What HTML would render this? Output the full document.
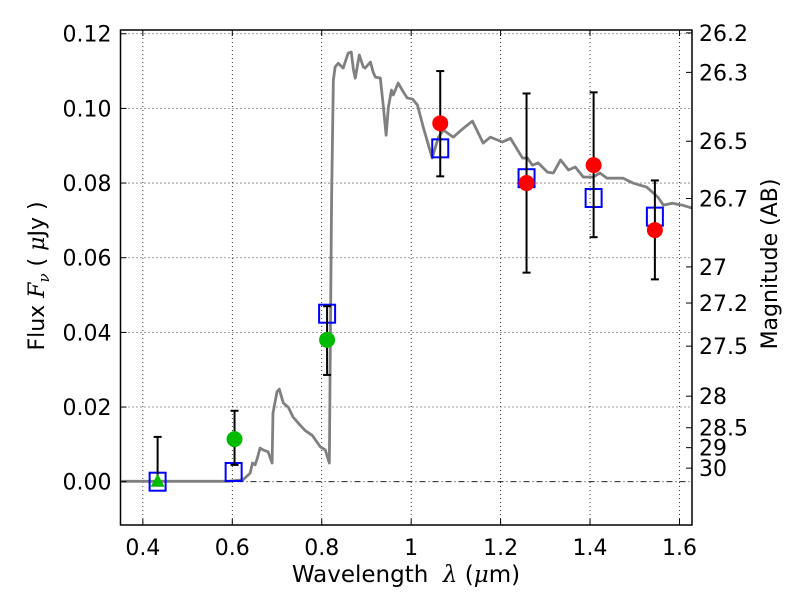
<!DOCTYPE html>
<html><head><meta charset="utf-8"><style>
body{margin:0;background:#fff}
svg{display:block;font-family:"DejaVu Sans","Liberation Sans",sans-serif}
text{white-space:pre}
</style></head><body>
<svg id="chart" width="800" height="600" viewBox="0 0 800 600"></svg>
<script>
const specLam=[0.352,0.591,0.624,0.640,0.645,0.651,0.656,0.662,0.669,0.680,0.689,0.691,0.700,0.705,0.714,0.725,0.736,0.752,0.763,0.779,0.797,0.808,0.817,0.822,0.826,0.830,0.837,0.848,0.859,0.866,0.871,0.875,0.884,0.893,0.897,0.909,0.915,0.920,0.931,0.938,0.944,0.949,0.956,0.960,0.971,0.980,0.991,1.003,1.014,1.027,1.047,1.061,1.072,1.094,1.117,1.137,1.161,1.177,1.204,1.222,1.249,1.260,1.271,1.284,1.305,1.318,1.334,1.352,1.367,1.385,1.407,1.422,1.438,1.474,1.496,1.527,1.552,1.564,1.584,1.606,1.628];
const specFlux=[0.0001,0.0001,0.0005,0.0023,0.005,0.0045,0.0063,0.009,0.0085,0.008,0.005,0.0184,0.0241,0.0248,0.0211,0.0200,0.0173,0.0151,0.0137,0.0124,0.0093,0.0085,0.005,0.0754,0.1076,0.1111,0.1121,0.1108,0.1148,0.1151,0.1103,0.1081,0.1143,0.1111,0.1108,0.1124,0.1097,0.1084,0.1081,0.1003,0.0928,0.1003,0.1049,0.1036,0.1068,0.1049,0.1028,0.1025,0.1009,0.0950,0.0867,0.0923,0.0942,0.0923,0.0947,0.0966,0.0907,0.0923,0.0910,0.0920,0.0867,0.0867,0.0848,0.0854,0.0829,0.0827,0.0862,0.0835,0.0843,0.0816,0.0816,0.0827,0.0813,0.0813,0.0800,0.0789,0.0762,0.0741,0.0746,0.0741,0.0733];
const greenLam=[0.605,0.812];
const greenFlux=[0.0114,0.038];
const greenErrHi=[0.019,0.047];
const greenErrLo=[0.0045,0.0286];
const triLam=[0.433];
const triFlux=[0.0];
const triErrHi=[0.012];
const triErrLo=[0.0];
const redLam=[1.065,1.258,1.408,1.545];
const redFlux=[0.096,0.080,0.0848,0.0674];
const redErrHi=[0.110,0.104,0.1043,0.0807];
const redErrLo=[0.0818,0.056,0.0655,0.0542];
const modelLam=[0.433,0.603,0.812,1.065,1.258,1.408,1.545];
const modelFlux=[0.0,0.0026,0.045,0.0893,0.0813,0.076,0.071];
const xTicks=[0.4,0.6,0.8,1.0,1.2,1.4,1.6];
const xTickLabels=["0.4","0.6","0.8","1","1.2","1.4","1.6"];
const yTicks=[0,0.02,0.04,0.06,0.08,0.10,0.12];
const yTickLabels=["0.00","0.02","0.04","0.06","0.08","0.10","0.12"];
const magTicks=[26.2,26.3,26.5,26.7,27,27.2,27.5,28,28.5,29,30];
const magLabels=["26.2","26.3","26.5","26.7","27","27.2","27.5","28","28.5","29","30"];

const L=120.5,R=692,T=30,B=525;
const xmin=0.35,xmax=1.628,ymin=-0.0116,ymax=0.121;
const X=v=>L+(v-xmin)/(xmax-xmin)*(R-L);
const Y=v=>B-(v-ymin)/(ymax-ymin)*(B-T);
const NS="http://www.w3.org/2000/svg";
const svg=document.getElementById('chart');
function mk(tag,attrs,parent){const e=document.createElementNS(NS,tag);for(const k in attrs)e.setAttribute(k,attrs[k]);(parent||svg).appendChild(e);return e;}

xTicks.forEach(v=>{const g=mk('line',{x1:X(v),x2:X(v),y1:T,y2:B,stroke:'#000','stroke-width':0.8,'stroke-dasharray':'1,3'});

});
yTicks.forEach(v=>{const g=mk('line',{x1:L,x2:R,y1:Y(v),y2:Y(v),stroke:'#000','stroke-width':0.8,'stroke-dasharray':v===0?'6,3,1,3':'1,3'});

});

const sp=mk('polyline',{points:specLam.map((l,i)=>X(l)+','+Y(specFlux[i])).join(' '),fill:'none',stroke:'#808080','stroke-width':2.8,'stroke-linejoin':'round'});



function errbar(lam,hi,lo,name){const x=X(lam);
const g=mk('g',{stroke:'#000','stroke-width':2});


mk('line',{x1:x,x2:x,y1:Y(hi),y2:Y(lo)},g);
mk('line',{x1:x-4,x2:x+4,y1:Y(hi),y2:Y(hi)},g);
mk('line',{x1:x-4,x2:x+4,y1:Y(lo),y2:Y(lo)},g);}

modelLam.forEach((l,i)=>{const s=mk('rect',{x:X(l)-8,y:Y(modelFlux[i])-9,width:16,height:18,fill:'none',stroke:'#0000ff','stroke-width':2});

});

triLam.forEach((l,i)=>{errbar(l,triErrHi[i],triErrLo[i],'triangle-error-bar');
const x=X(l),y=Y(triFlux[i]);
const t=mk('polygon',{points:`${x},${y-8} ${x-7},${y+5} ${x+7},${y+5}`,fill:'#00bb00'});

});
greenLam.forEach((l,i)=>{errbar(l,greenErrHi[i],greenErrLo[i],'green-error-bar');
const c=mk('circle',{cx:X(l),cy:Y(greenFlux[i]),r:8,fill:'#00bb00'});

});
redLam.forEach((l,i)=>{errbar(l,redErrHi[i],redErrLo[i],'red-error-bar');
const c=mk('circle',{cx:X(l),cy:Y(redFlux[i]),r:8,fill:'#ff0000'});

});

const fr=mk('rect',{x:L,y:T,width:R-L,height:B-T,fill:'none',stroke:'#000','stroke-width':1.5});



xTicks.forEach((v,i)=>{mk('line',{x1:X(v),x2:X(v),y1:B,y2:B-6,stroke:'#000'});mk('line',{x1:X(v),x2:X(v),y1:T,y2:T+6,stroke:'#000'});
const t=mk('text',{x:X(v),y:B+30,'font-size':22,'text-anchor':'middle'});t.textContent=xTickLabels[i];

});
yTicks.forEach((v,i)=>{mk('line',{x1:L,x2:L+6,y1:Y(v),y2:Y(v),stroke:'#000'});
const t=mk('text',{x:L-9,y:Y(v)+8,'font-size':22,'text-anchor':'end'});t.textContent=yTickLabels[i];

});
magTicks.forEach((m,i)=>{const f=Math.pow(10,(23.9-m)/2.5);const y=Y(f);
mk('line',{x1:R-6,x2:R,y1:y,y2:y,stroke:'#000'});
const t=mk('text',{x:699,y:y+8,'font-size':22});t.textContent=magLabels[i];

});
</script>
<svg width="800" height="600" style="position:absolute;left:0;top:0;font-family:'DejaVu Sans','Liberation Sans',sans-serif">
<text x="406" y="582" font-size="23" text-anchor="middle">Wavelength  <tspan font-family="DejaVu Serif,serif" font-style="italic">λ</tspan> (<tspan font-family="DejaVu Serif,serif" font-style="italic">μ</tspan>m)</text>
<text transform="translate(44,276) rotate(-90)" font-size="22" text-anchor="middle">Flux <tspan font-family="DejaVu Serif,serif" font-style="italic">F<tspan font-size="15" dy="5">ν</tspan></tspan><tspan dy="-5"> ( </tspan><tspan font-family="DejaVu Serif,serif" font-style="italic">μ</tspan>Jy )</text>
<text transform="translate(777,264) rotate(-90)" font-size="22" text-anchor="middle">Magnitude (AB)</text>
</svg>
</body></html>
